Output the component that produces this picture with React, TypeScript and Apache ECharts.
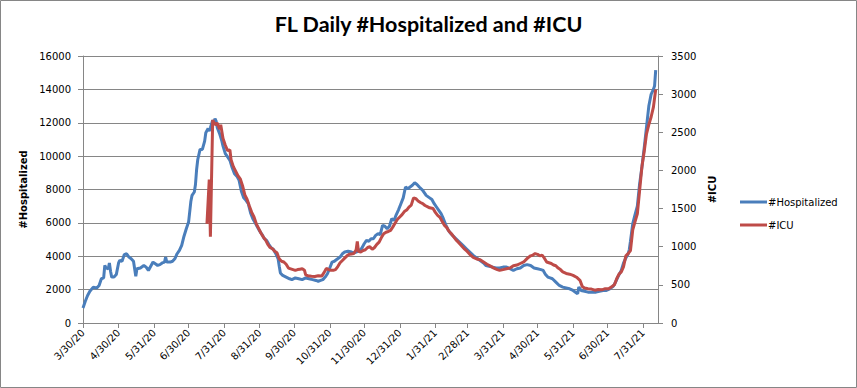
import React, { useEffect, useRef } from "react";
import * as echarts from "echarts";

// Daily date categories: 3/30/20 .. 8/12/21
const START = { y: 2020, m: 2, d: 30 };
const DAY_COUNT = 502;
const categories: string[] = Array.from({ length: DAY_COUNT }, (_, i) => {
  const dt = new Date(START.y, START.m, START.d + i);
  return `${dt.getMonth() + 1}/${dt.getDate()}/${String(dt.getFullYear()).slice(2)}`;
});

const tickLabels = [
  "3/30/20", "4/30/20", "5/31/20", "6/30/20", "7/31/20", "8/31/20", "9/30/20",
  "10/31/20", "11/30/20", "12/31/20", "1/31/21", "2/28/21", "3/31/21", "4/30/21",
  "5/31/21", "6/30/21", "7/31/21",
];

// #Hospitalized: day index (since 3/30/20) and value
const hospDays = [
  0, 2, 4, 6, 9, 12, 14, 16, 18, 19, 20, 22, 23, 24, 25, 27, 29, 31, 32, 34, 36, 38, 40, 42, 44, 46, 47, 50,
  53, 55, 57, 59, 61, 63, 65, 67, 69, 71, 72, 73, 76, 78, 80, 82, 84, 86, 88, 90, 92, 94, 95, 97, 98, 99,
  100, 102, 104, 106, 107, 109, 110, 111, 113, 114, 115, 116, 117, 119, 121, 122, 124, 126, 128, 130, 132,
  134, 136, 138, 140, 142, 144, 146, 148, 150, 152, 154, 156, 158, 160, 162, 164, 166, 168, 170, 171, 172,
  174, 177, 180, 182, 185, 188, 191, 194, 197, 200, 203, 205, 207, 209, 211, 213, 215, 217, 219, 221, 224,
  226, 228, 231, 234, 236, 238, 241, 243, 245, 247, 249, 251, 253, 255, 257, 259, 261, 263, 265, 267, 269,
  271, 273, 275, 277, 279, 281, 283, 285, 287, 289, 291, 293, 296, 299, 302, 304, 306, 308, 310, 312, 314,
  316, 318, 320, 322, 325, 328, 331, 334, 337, 340, 343, 346, 349, 351, 354, 357, 360, 363, 366, 369, 372,
  375, 378, 381, 384, 387, 390, 393, 396, 399, 401, 403, 405, 407, 409, 412, 415, 418, 421, 424, 427, 430,
  431, 432, 434, 437, 440, 443, 447, 450, 453, 456, 459, 462, 464, 466, 469, 471, 473, 475, 476, 477, 479,
  481, 483, 485, 487, 489, 491, 493, 495, 497, 498, 499,
];
const hospVals = [
  900, 1300, 1650, 1900, 2150, 2100, 2250, 2650, 2700, 3450, 3300, 3250, 3600, 3100, 2750, 2750, 2900, 3600,
  3750, 3700, 4100, 4150, 3950, 3850, 3700, 2800, 3250, 3300, 3450, 3350, 3150, 3400, 3650, 3550, 3450, 3500,
  3600, 3650, 3950, 3650, 3650, 3700, 3850, 4150, 4350, 4650, 5200, 5650, 6050, 7300, 7650, 7850, 8300, 9200,
  9800, 10400, 10400, 10900, 11400, 11650, 11500, 11700, 12150, 11900, 12250, 12100, 11700, 11350, 10900,
  10600, 10150, 9950, 9750, 9300, 8950, 8800, 8550, 7900, 7500, 7350, 7150, 6600, 6250, 6000, 5750, 5500,
  5300, 5050, 4950, 4700, 4500, 4400, 4150, 3850, 3400, 3000, 2850, 2750, 2650, 2600, 2700, 2650, 2600, 2700,
  2650, 2600, 2550, 2500, 2550, 2600, 2750, 2950, 3300, 3650, 3700, 3800, 3950, 4150, 4250, 4300, 4250, 4200,
  4250, 4350, 4500, 4750, 4950, 4900, 5050, 5050, 5250, 5350, 5300, 5850, 5800, 5650, 5800, 6250, 6150, 6500,
  6800, 7150, 7500, 8150, 8050, 8150, 8250, 8400, 8300, 8150, 7950, 7650, 7500, 7400, 7150, 6950, 6750, 6550,
  6250, 5900, 5600, 5400, 5250, 5050, 4850, 4650, 4450, 4250, 4050, 3900, 3750, 3600, 3450, 3400, 3350, 3300,
  3300, 3350, 3350, 3250, 3150, 3250, 3300, 3450, 3500, 3450, 3300, 3250, 3200, 3150, 2900, 2750, 2700, 2650,
  2450, 2250, 2150, 2100, 2050, 1950, 1800, 1750, 2150, 1950, 1900, 1850, 1850, 1850, 1900, 1950, 1950, 2050,
  2200, 2450, 2750, 3150, 3600, 3900, 4150, 4400, 4900, 5950, 6500, 7000, 8350, 9350, 10500, 11750, 13000,
  13700, 14000, 14200, 15150,
];

// #ICU: day index and value
const icuDays = [
  108, 110, 111, 113, 115, 117, 119, 120, 122, 124, 126, 128, 129, 131, 133, 135, 137, 139, 141, 143, 145,
  147, 149, 151, 153, 155, 157, 159, 161, 163, 165, 167, 169, 171, 173, 175, 177, 179, 181, 183, 185, 187,
  189, 191, 193, 194, 196, 199, 202, 205, 208, 210, 212, 214, 216, 218, 220, 222, 224, 226, 228, 230, 232,
  234, 236, 238, 239, 240, 242, 244, 246, 248, 250, 252, 254, 256, 258, 260, 262, 264, 266, 268, 270, 272,
  274, 276, 278, 280, 282, 284, 286, 288, 290, 292, 294, 296, 298, 300, 302, 305, 307, 309, 311, 313, 315,
  317, 319, 321, 323, 325, 327, 330, 332, 334, 337, 340, 343, 346, 349, 352, 355, 358, 361, 363, 366, 369,
  372, 375, 378, 381, 384, 386, 388, 390, 392, 394, 396, 398, 400, 402, 404, 406, 408, 410, 412, 414, 416,
  418, 421, 424, 427, 430, 433, 435, 437, 440, 443, 446, 449, 452, 455, 458, 461, 463, 465, 467, 469, 471,
  473, 475, 477, 479, 481, 483, 485, 487, 489, 491, 493, 495, 497, 499,
];
const icuVals = [
  1300, 1880, 1130, 2660, 2600, 2620, 2540, 2600, 2420, 2330, 2260, 2270, 2140, 2050, 1990, 1930, 1890, 1800,
  1680, 1620, 1530, 1450, 1390, 1300, 1240, 1180, 1130, 1090, 1030, 990, 975, 940, 920, 840, 810, 800, 770,
  720, 710, 700, 690, 700, 705, 710, 690, 630, 620, 612, 610, 620, 615, 660, 715, 700, 690, 690, 700, 740,
  790, 820, 850, 880, 900, 905, 910, 960, 1070, 940, 930, 950, 960, 990, 1000, 965, 990, 1030, 1060, 1120,
  1170, 1190, 1200, 1215, 1260, 1310, 1360, 1390, 1420, 1460, 1480, 1520, 1545, 1640, 1630, 1600, 1580,
  1565, 1540, 1525, 1510, 1500, 1450, 1410, 1385, 1330, 1280, 1250, 1200, 1170, 1130, 1090, 1060, 1010, 975,
  950, 900, 860, 840, 830, 800, 770, 745, 720, 700, 690, 700, 710, 720, 750, 760, 780, 800, 830, 860, 880,
  890, 910, 900, 880, 890, 850, 800, 790, 780, 760, 750, 720, 700, 670, 650, 640, 625, 600, 560, 480, 460,
  450, 445, 430, 440, 435, 450, 450, 480, 500, 580, 640, 670, 740, 880, 910, 950, 1220, 1330, 1430, 1740,
  2050, 2250, 2480, 2600, 2700, 2830, 3060,
];

const FONT = "'DejaVu Sans', Verdana, sans-serif";
const GRAY = "#868686";

export default function App() {
  const ref = useRef<HTMLDivElement>(null);
  useEffect(() => {
    if (!ref.current) return;
    const chart = echarts.init(ref.current, undefined, { renderer: "svg" });
    const tickSet = new Set(tickLabels);
    const showTick = (_i: number, v: string) => tickSet.has(v);
    const plain = (v: number) => String(v);
    chart.setOption({
      animation: false,
      backgroundColor: "#fff",
      title: {
        text: "FL Daily #Hospitalized and #ICU",
        left: "center",
        top: 8,
        textStyle: { fontFamily: "Lato, 'Liberation Sans', sans-serif", fontWeight: "bold", fontSize: 21.5, color: "#000" },
      },
      legend: {
        orient: "vertical",
        left: 735,
        top: 192,
        itemWidth: 27,
        itemHeight: 3,
        itemGap: 13,
        icon: "rect",
        textStyle: { fontFamily: FONT, fontSize: 10, color: "#000", padding: [0, 0, 0, -4] },
        data: ["#Hospitalized", "#ICU"],
      },
      grid: { left: 83, right: 199, top: 56, bottom: 65, containLabel: false },
      xAxis: {
        type: "category",
        data: categories,
        boundaryGap: false,
        axisLine: { lineStyle: { color: GRAY, width: 1 } },
        axisTick: { interval: showTick, length: 5, lineStyle: { color: GRAY } },
        axisLabel: {
          interval: showTick,
          rotate: 45,
          fontFamily: FONT,
          fontSize: 10,
          color: "#000",
          margin: 8,
        },
        splitLine: { show: false },
      },
      yAxis: [
        {
          type: "value",
          min: 0,
          max: 16000,
          interval: 2000,
          name: "#Hospitalized",
          nameLocation: "middle",
          nameRotate: 90,
          nameGap: 43,
          nameTextStyle: { fontFamily: FONT, fontSize: 10, fontWeight: "bold", color: "#000" },
          axisLine: { show: true, lineStyle: { color: GRAY } },
          axisTick: { show: true, length: 5, lineStyle: { color: GRAY } },
          axisLabel: { fontFamily: FONT, fontSize: 10, color: "#000", margin: 12, formatter: plain },
          splitLine: { show: true, lineStyle: { color: GRAY, width: 1 } },
        },
        {
          type: "value",
          min: 0,
          max: 3500,
          interval: 500,
          name: "#ICU",
          nameLocation: "middle",
          nameRotate: 90,
          nameGap: 46,
          nameTextStyle: { fontFamily: FONT, fontSize: 10, fontWeight: "bold", color: "#000" },
          axisLine: { show: true, lineStyle: { color: GRAY } },
          axisTick: { show: true, length: 5, lineStyle: { color: GRAY } },
          axisLabel: { fontFamily: FONT, fontSize: 10, color: "#000", margin: 13, formatter: plain },
          splitLine: { show: false },
        },
      ],
      series: [
        {
          name: "#Hospitalized",
          type: "line",
          yAxisIndex: 0,
          showSymbol: false,
          symbol: "none",
          color: "#4A7EBB",
          lineStyle: { width: 3, color: "#4A7EBB" },
          data: hospDays.map((d, i) => [categories[d], hospVals[i]]),
        },
        {
          name: "#ICU",
          type: "line",
          yAxisIndex: 1,
          showSymbol: false,
          symbol: "none",
          color: "#BE4B48",
          lineStyle: { width: 3, color: "#BE4B48" },
          data: icuDays.map((d, i) => [categories[d], icuVals[i]]),
        },
      ],
      graphic: [
        {
          type: "rect",
          shape: { x: 0.5, y: 0.5, width: 856, height: 387 },
          style: { fill: "none", stroke: GRAY, lineWidth: 1 },
          silent: true,
        },
      ],
    });
    return () => chart.dispose();
  }, []);
  return (
    <div
      ref={ref}
      style={{ position: "fixed", left: 0, top: 0, width: 857, height: 388 }}
    />
  );
}
